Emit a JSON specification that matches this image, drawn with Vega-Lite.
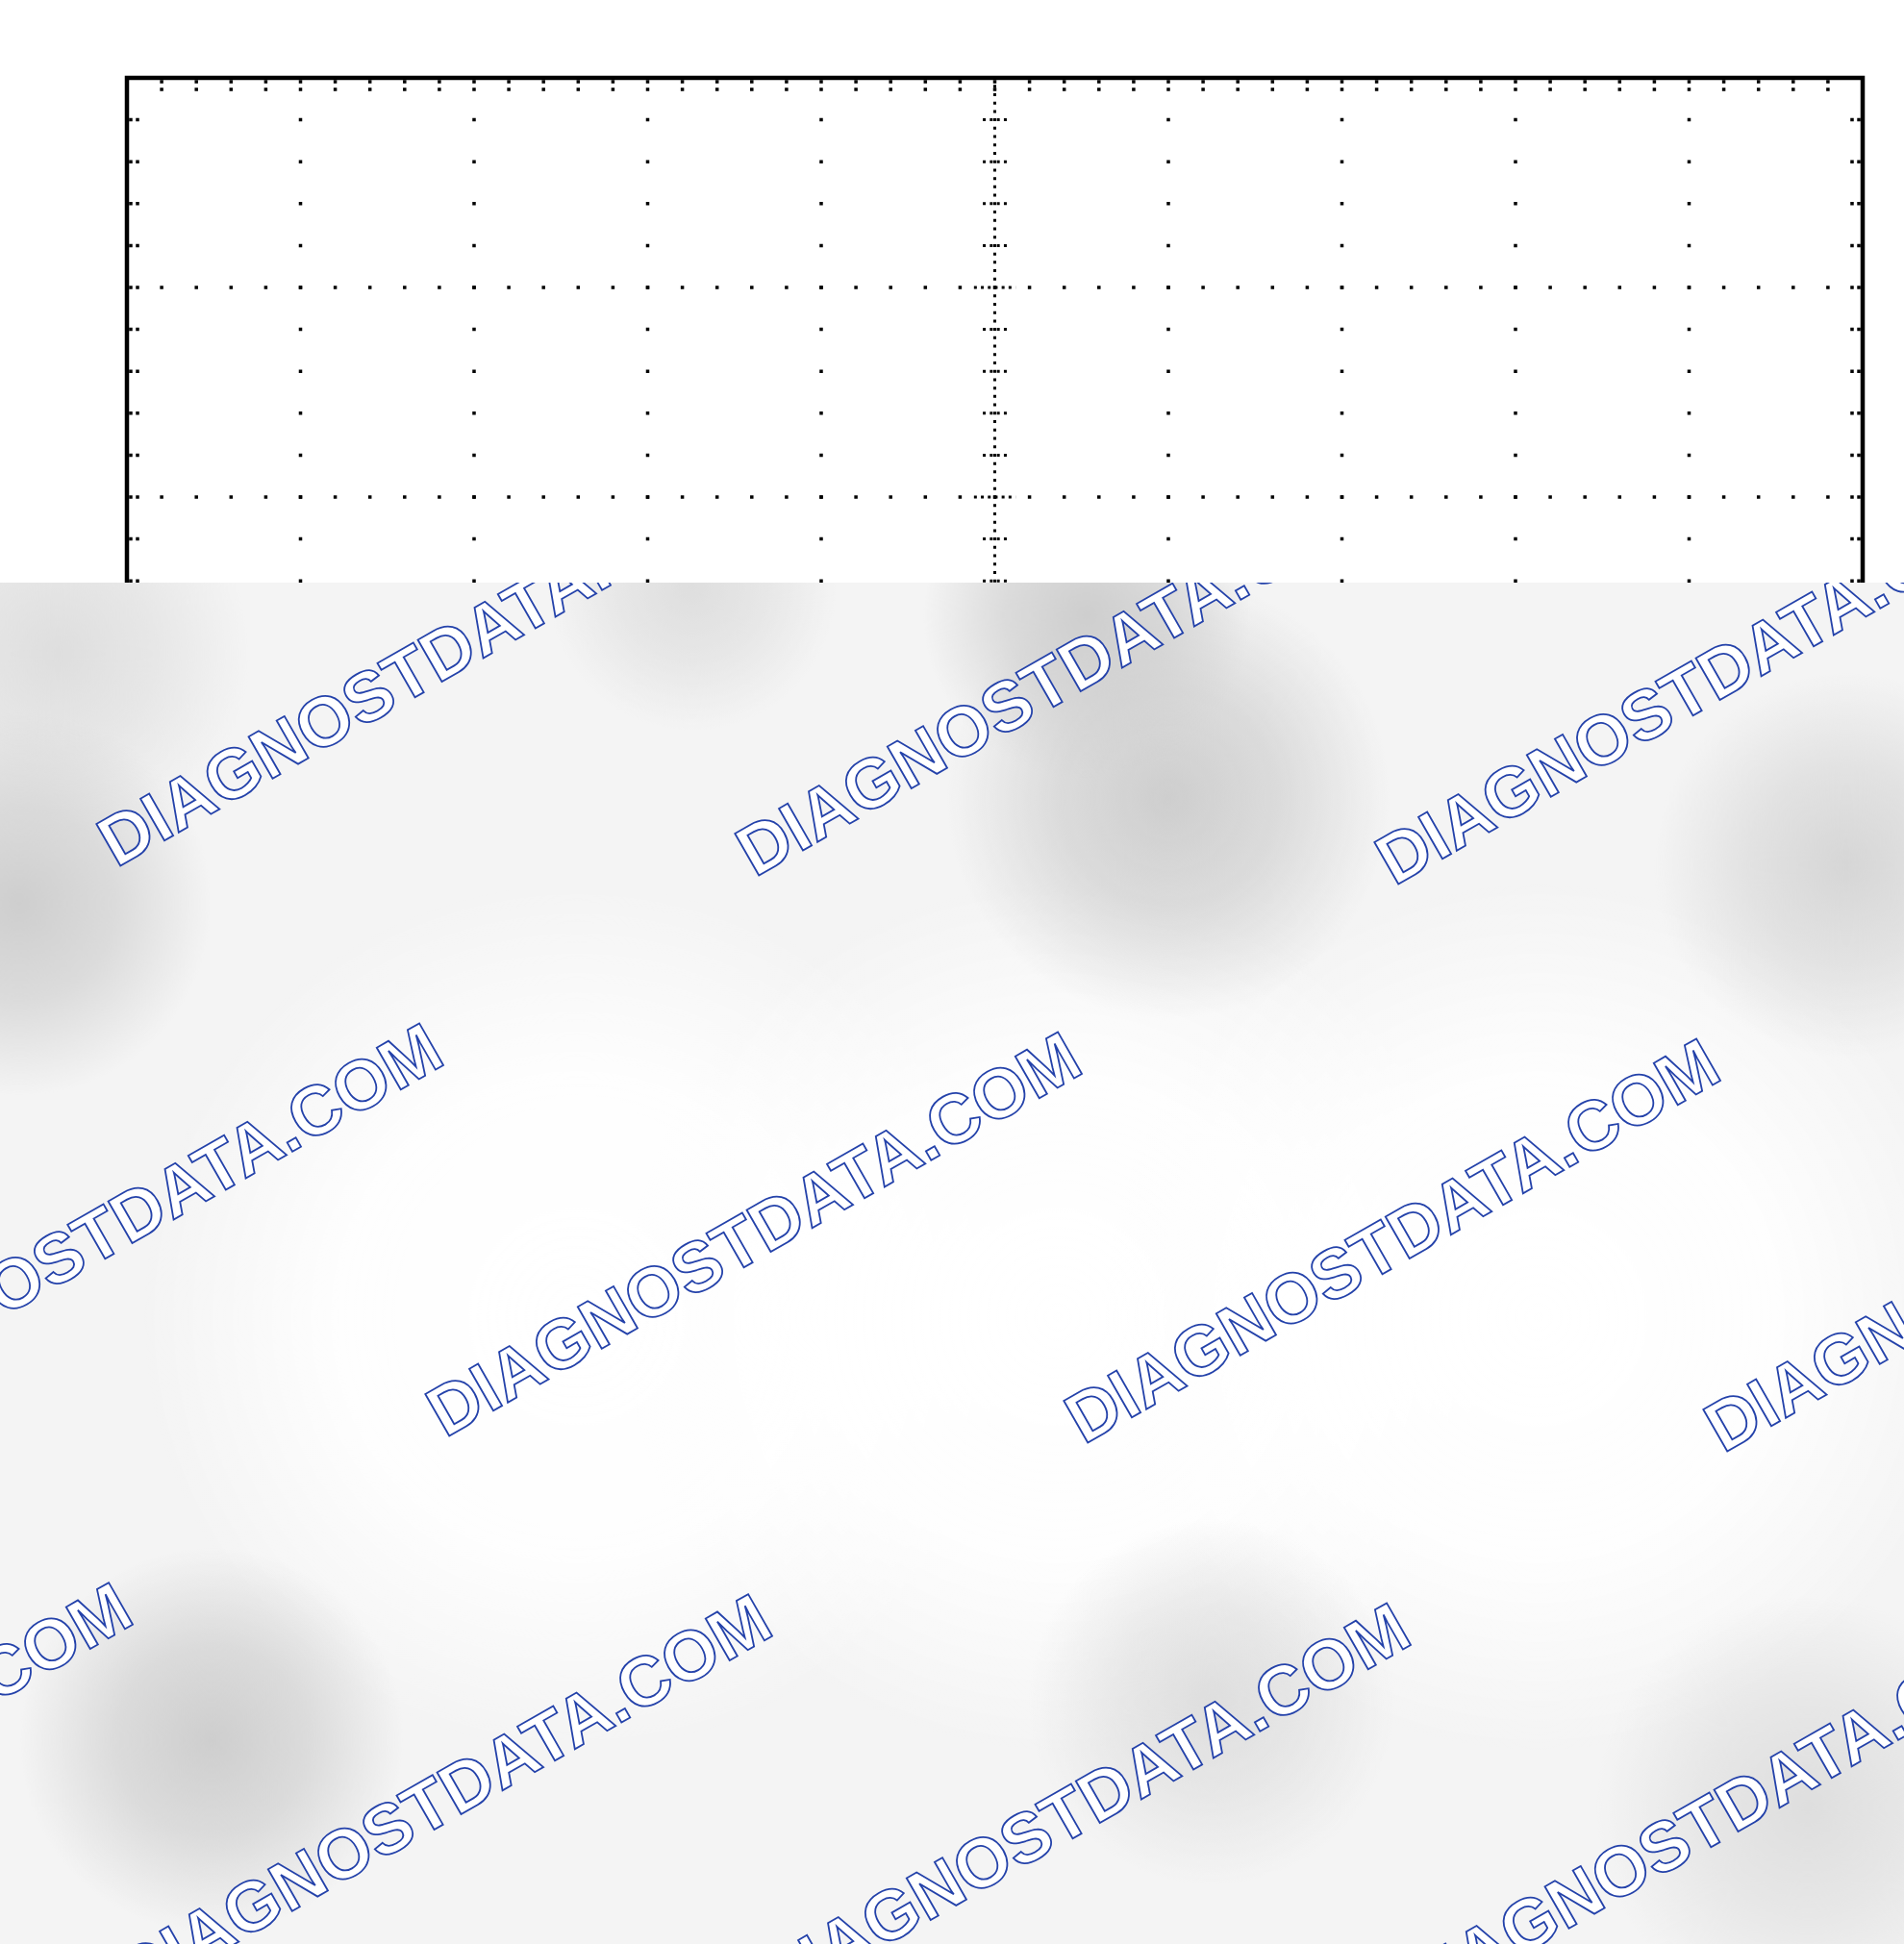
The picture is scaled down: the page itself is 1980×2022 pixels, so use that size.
{
  "$schema": "https://vega.github.io/schema/vega-lite/v6.json",
  "padding": 0,
  "spacing": 0,
  "bounds": "flush",
  "background": "white",
  "config": {"view": {"stroke": null}},
  "vconcat": [
    {
      "width": 1980,
      "height": 606,
      "layer": [
        {
          "data": {"values": [{"x": 1}, {"x": 2}, {"x": 3}, {"x": 4}, {"x": 6}, {"x": 7}, {"x": 8}, {"x": 9}]},
          "mark": {"type": "rule", "color": "black", "strokeWidth": 3.5, "strokeDash": [3.5, 40.1], "strokeDashOffset": 1.75, "clip": true},
          "encoding": {
            "x": {"field": "x", "type": "quantitative", "axis": null, "scale": {"domain": [-0.7313, 10.2382], "nice": false, "zero": false}},
            "y": {"datum": 0, "type": "quantitative", "axis": null, "scale": {"domain": [-0.3716, 2.4083], "nice": false, "zero": false, "reverse": true}},
            "y2": {"datum": 8}
          }
        },
        {
          "data": {"values": [{"y": 1}, {"y": 2}, {"y": 3}, {"y": 5}, {"y": 6}, {"y": 7}]},
          "mark": {"type": "rule", "color": "black", "strokeWidth": 3.5, "strokeDash": [3.5, 32.6], "strokeDashOffset": 1.75, "clip": true},
          "encoding": {
            "x": {"datum": 0, "type": "quantitative", "axis": null, "scale": {"domain": [-0.7313, 10.2382], "nice": false, "zero": false}},
            "x2": {"datum": 10},
            "y": {"field": "y", "type": "quantitative", "axis": null, "scale": {"domain": [-0.3716, 2.4083], "nice": false, "zero": false, "reverse": true}}
          }
        },
        {
          "data": {"values": [{"x": 5}]},
          "mark": {"type": "rule", "color": "black", "strokeWidth": 3, "strokeDash": [3, 5.72], "strokeDashOffset": 1.5, "clip": true},
          "encoding": {
            "x": {"field": "x", "type": "quantitative", "axis": null, "scale": {"domain": [-0.7313, 10.2382], "nice": false, "zero": false}},
            "y": {"datum": 0, "type": "quantitative", "axis": null, "scale": {"domain": [-0.3716, 2.4083], "nice": false, "zero": false, "reverse": true}},
            "y2": {"datum": 8}
          }
        },
        {
          "data": {"values": [{"y": 4}]},
          "mark": {"type": "rule", "color": "black", "strokeWidth": 3, "strokeDash": [3, 4.22], "strokeDashOffset": 1.5, "clip": true},
          "encoding": {
            "x": {"datum": 0, "type": "quantitative", "axis": null, "scale": {"domain": [-0.7313, 10.2382], "nice": false, "zero": false}},
            "x2": {"datum": 10},
            "y": {"field": "y", "type": "quantitative", "axis": null, "scale": {"domain": [-0.3716, 2.4083], "nice": false, "zero": false, "reverse": true}}
          }
        },
        {
          "data": {"values": [
            {"y": 0.2}, {"y": 0.4}, {"y": 0.6}, {"y": 0.8},
            {"y": 1.2}, {"y": 1.4}, {"y": 1.6}, {"y": 1.8},
            {"y": 2.2}, {"y": 2.4}, {"y": 2.6}, {"y": 2.8},
            {"y": 3.2}, {"y": 3.4}, {"y": 3.6}, {"y": 3.8},
            {"y": 4.2}, {"y": 4.4}, {"y": 4.6}, {"y": 4.8},
            {"y": 5.2}, {"y": 5.4}, {"y": 5.6}, {"y": 5.8},
            {"y": 6.2}, {"y": 6.4}, {"y": 6.6}, {"y": 6.8},
            {"y": 7.2}, {"y": 7.4}, {"y": 7.6}, {"y": 7.8}
          ]},
          "mark": {"type": "rule", "color": "black", "strokeWidth": 3, "strokeDash": [3, 4.3], "clip": true},
          "encoding": {
            "x": {"datum": 4.931, "type": "quantitative", "axis": null, "scale": {"domain": [-0.7313, 10.2382], "nice": false, "zero": false}},
            "x2": {"datum": 5.069},
            "y": {"field": "y", "type": "quantitative", "axis": null, "scale": {"domain": [-0.3716, 2.4083], "nice": false, "zero": false, "reverse": true}}
          }
        },
        {
          "data": {"values": [{"y": 1}, {"y": 2}, {"y": 3}, {"y": 5}, {"y": 6}, {"y": 7}]},
          "mark": {"type": "rule", "color": "black", "strokeWidth": 3, "strokeDash": [3, 4.2], "clip": true},
          "encoding": {
            "x": {"datum": 4.88, "type": "quantitative", "axis": null, "scale": {"domain": [-0.7313, 10.2382], "nice": false, "zero": false}},
            "x2": {"datum": 5.12},
            "y": {"field": "y", "type": "quantitative", "axis": null, "scale": {"domain": [-0.3716, 2.4083], "nice": false, "zero": false, "reverse": true}}
          }
        },
        {
          "data": {"values": [{"y": 0.018}, {"y": 0.055}]},
          "mark": {"type": "rule", "color": "black", "strokeWidth": 3.5, "strokeDash": [3.5, 32.6], "strokeDashOffset": 1.75, "clip": true},
          "encoding": {
            "x": {"datum": 0, "type": "quantitative", "axis": null, "scale": {"domain": [-0.7313, 10.2382], "nice": false, "zero": false}},
            "x2": {"datum": 10},
            "y": {"field": "y", "type": "quantitative", "axis": null, "scale": {"domain": [-0.3716, 2.4083], "nice": false, "zero": false, "reverse": true}}
          }
        },
        {
          "data": {"values": [{"x": 0.022}, {"x": 0.061}, {"x": 9.939}, {"x": 9.978}]},
          "mark": {"type": "rule", "color": "black", "strokeWidth": 3.5, "strokeDash": [3.5, 40.1], "strokeDashOffset": 1.75, "clip": true},
          "encoding": {
            "x": {"field": "x", "type": "quantitative", "axis": null, "scale": {"domain": [-0.7313, 10.2382], "nice": false, "zero": false}},
            "y": {"datum": 0, "type": "quantitative", "axis": null, "scale": {"domain": [-0.3716, 2.4083], "nice": false, "zero": false, "reverse": true}},
            "y2": {"datum": 8}
          }
        },
        {
          "data": {"values": [{"x0": 0, "x1": 10, "y0": 0, "y1": 8}]},
          "mark": {"type": "rect", "filled": false, "color": "black", "strokeWidth": 4.5, "clip": true},
          "encoding": {
            "x": {"field": "x0", "type": "quantitative", "axis": null, "scale": {"domain": [-0.7313, 10.2382], "nice": false, "zero": false}},
            "x2": {"field": "x1"},
            "y": {"field": "y0", "type": "quantitative", "axis": null, "scale": {"domain": [-0.3716, 2.4083], "nice": false, "zero": false, "reverse": true}},
            "y2": {"field": "y1"}
          }
        }
      ]
    },
    {
      "width": 1980,
      "height": 1416,
      "view": {"fill": "#f4f4f4", "stroke": null},
      "layer": [
        {
          "data": {"values": [
            {"x0": 0.0997, "x1": 5.086, "y0": 3.849, "y1": 7.977},
            {"x0": 2.87, "x1": 7.856, "y0": 3.849, "y1": 7.977},
            {"x0": 5.64, "x1": 10.626, "y0": 3.849, "y1": 7.977}
          ]},
          "mark": {"type": "rect", "clip": true, "fill": {"gradient": "radial", "stops": [{"offset": 0, "color": "rgba(255,255,255,1)"}, {"offset": 0.55, "color": "rgba(255,255,255,0.9)"}, {"offset": 1, "color": "rgba(255,255,255,0)"}]}},
          "encoding": {
            "x": {"field": "x0", "type": "quantitative", "axis": null, "scale": {"domain": [-0.7313, 10.2382], "nice": false, "zero": false}},
            "x2": {"field": "x1"},
            "y": {"field": "y0", "type": "quantitative", "axis": null, "scale": {"domain": [2.4083, 8.9037], "nice": false, "zero": false, "reverse": true}},
            "y2": {"field": "y1"}
          }
        },
        {
          "data": {"values": [
            {"x0": 5.197, "x1": 7.302, "y0": 6.876, "y1": 8.619},
            {"x0": 8.465, "x1": 10.903, "y0": 7.243, "y1": 9.261},
            {"x0": -1.507, "x1": 0.709, "y0": 1.83, "y1": 3.665},
            {"x0": 2.427, "x1": 4.089, "y0": 1.739, "y1": 3.115}
          ]},
          "mark": {"type": "rect", "clip": true, "fill": {"gradient": "radial", "stops": [{"offset": 0, "color": "rgba(222,222,222,1)"}, {"offset": 0.5, "color": "rgba(222,222,222,0.6)"}, {"offset": 1, "color": "rgba(222,222,222,0)"}]}},
          "encoding": {
            "x": {"field": "x0", "type": "quantitative", "axis": null, "scale": {"domain": [-0.7313, 10.2382], "nice": false, "zero": false}},
            "x2": {"field": "x1"},
            "y": {"field": "y0", "type": "quantitative", "axis": null, "scale": {"domain": [2.4083, 8.9037], "nice": false, "zero": false, "reverse": true}},
            "y2": {"field": "y1"}
          }
        },
        {
          "data": {"values": [
            {"x0": 8.798, "x1": 11.014, "y0": 2.839, "y1": 4.674}
          ]},
          "mark": {"type": "rect", "clip": true, "fill": {"gradient": "radial", "stops": [{"offset": 0, "color": "rgba(214,214,214,1)"}, {"offset": 0.5, "color": "rgba(214,214,214,0.6)"}, {"offset": 1, "color": "rgba(214,214,214,0)"}]}},
          "encoding": {
            "x": {"field": "x0", "type": "quantitative", "axis": null, "scale": {"domain": [-0.7313, 10.2382], "nice": false, "zero": false}},
            "x2": {"field": "x1"},
            "y": {"field": "y0", "type": "quantitative", "axis": null, "scale": {"domain": [2.4083, 8.9037], "nice": false, "zero": false, "reverse": true}},
            "y2": {"field": "y1"}
          }
        },
        {
          "data": {"values": [
            {"x0": 4.726, "x1": 7.274, "y0": 2.381, "y1": 4.491},
            {"x0": 4.587, "x1": 6.471, "y0": 1.784, "y1": 3.344},
            {"x0": -1.729, "x1": 0.488, "y0": 3.023, "y1": 4.858},
            {"x0": -0.62, "x1": 1.596, "y0": 7.014, "y1": 8.849}
          ]},
          "mark": {"type": "rect", "clip": true, "fill": {"gradient": "radial", "stops": [{"offset": 0, "color": "rgba(206,206,206,1)"}, {"offset": 0.5, "color": "rgba(206,206,206,0.65)"}, {"offset": 1, "color": "rgba(206,206,206,0)"}]}},
          "encoding": {
            "x": {"field": "x0", "type": "quantitative", "axis": null, "scale": {"domain": [-0.7313, 10.2382], "nice": false, "zero": false}},
            "x2": {"field": "x1"},
            "y": {"field": "y0", "type": "quantitative", "axis": null, "scale": {"domain": [2.4083, 8.9037], "nice": false, "zero": false, "reverse": true}},
            "y2": {"field": "y1"}
          }
        },
        {
          "data": {"values": [
            {"x": -3.739, "y": 3.729, "label": "DIAGNOSTDATA.COM"},
            {"x": -0.061, "y": 3.771, "label": "DIAGNOSTDATA.COM"},
            {"x": 3.618, "y": 3.817, "label": "DIAGNOSTDATA.COM"},
            {"x": 7.302, "y": 3.858, "label": "DIAGNOSTDATA.COM"},
            {"x": -1.845, "y": 6.45, "label": "DIAGNOSTDATA.COM"},
            {"x": 1.834, "y": 6.491, "label": "DIAGNOSTDATA.COM"},
            {"x": 5.513, "y": 6.523, "label": "DIAGNOSTDATA.COM"},
            {"x": 9.197, "y": 6.564, "label": "DIAGNOSTDATA.COM"},
            {"x": -3.634, "y": 9.119, "label": "DIAGNOSTDATA.COM"},
            {"x": 0.05, "y": 9.174, "label": "DIAGNOSTDATA.COM"},
            {"x": 3.729, "y": 9.216, "label": "DIAGNOSTDATA.COM"},
            {"x": 7.407, "y": 9.257, "label": "DIAGNOSTDATA.COM"}
          ]},
          "mark": {"type": "text", "clip": true, "align": "left", "baseline": "alphabetic", "angle": -29.8, "font": "Liberation Sans", "fontWeight": "bold", "fontSize": 73, "fill": "white", "stroke": "#2442aa", "strokeWidth": 1.8},
          "encoding": {
            "x": {"field": "x", "type": "quantitative", "axis": null, "scale": {"domain": [-0.7313, 10.2382], "nice": false, "zero": false}},
            "y": {"field": "y", "type": "quantitative", "axis": null, "scale": {"domain": [2.4083, 8.9037], "nice": false, "zero": false, "reverse": true}},
            "text": {"field": "label"}
          }
        }
      ]
    }
  ]
}
